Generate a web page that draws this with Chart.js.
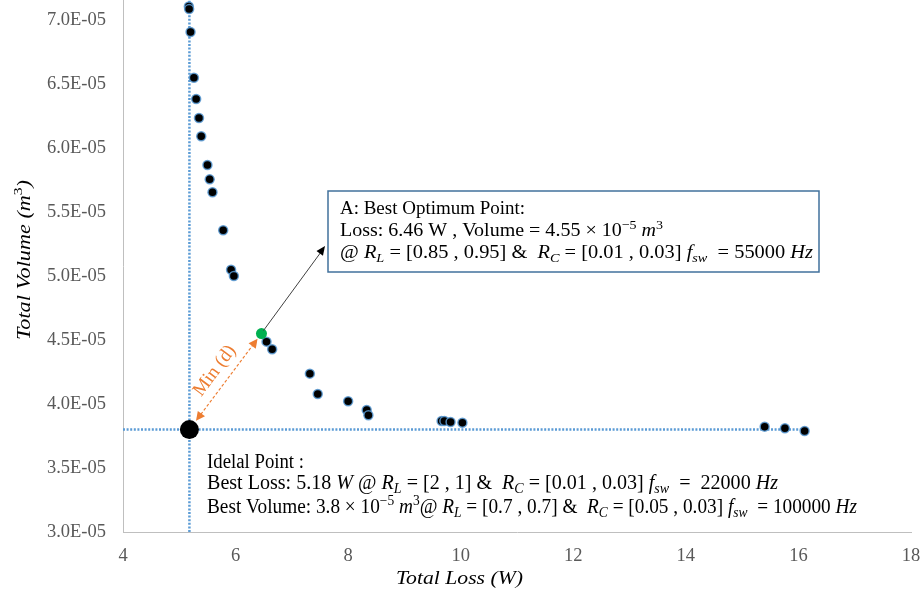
<!DOCTYPE html>
<html>
<head>
<meta charset="utf-8">
<script src="https://cdn.jsdelivr.net/npm/chart.js@4.4.0/dist/chart.umd.min.js"></script>
<style>
  html, body { margin: 0; padding: 0; background: #fff; }
  #wrap { width: 924px; height: 598px; }
</style>
</head>
<body>
<div id="wrap"><canvas id="paretoChart" width="924" height="598"></canvas></div>
<script>
// pareto front: total loss (W) against total volume (m^3)
const lossValues = [5.17, 5.175, 5.20, 5.26, 5.30, 5.35, 5.39, 5.50, 5.54, 5.59, 5.78, 5.92, 5.97,
  6.55, 6.65, 7.32, 7.46, 8.00, 8.33, 8.36, 9.66, 9.71, 9.82, 10.03, 15.40, 15.76, 16.11];
const volumeValues = [7.105e-5, 7.085e-5, 6.906e-5, 6.549e-5, 6.383e-5, 6.234e-5, 6.091e-5, 5.867e-5,
  5.755e-5, 5.654e-5, 5.357e-5, 5.049e-5, 5.000e-5, 4.487e-5, 4.427e-5, 4.237e-5, 4.078e-5,
  4.021e-5, 3.953e-5, 3.912e-5, 3.867e-5, 3.867e-5, 3.859e-5, 3.854e-5, 3.823e-5, 3.810e-5, 3.789e-5];

// best compromise and ideal point
const optimumLoss = 6.46;
const optimumVolume = 4.55e-5;
const idealLoss = 5.18;
const idealVolume = 3.8e-5;

const xMin = 4, xMax = 18;
const yMin = 3.0e-5, yMax = 7.156e-5;
const xTickValues = [4, 6, 8, 10, 12, 14, 16, 18];
const yTickValues = [3.0e-5, 3.5e-5, 4.0e-5, 4.5e-5, 5.0e-5, 5.5e-5, 6.0e-5, 6.5e-5, 7.0e-5];
const yTickLabels = ['3.0E-05', '3.5E-05', '4.0E-05', '4.5E-05', '5.0E-05', '5.5E-05', '6.0E-05', '6.5E-05', '7.0E-05'];

const SERIF = '"Liberation Serif", "Times New Roman", serif';

// runs: [text, flags]  i = italic, b = subscript, p = superscript
function runFont(flags, size) {
  const s = (flags.includes('b') || flags.includes('p')) ? size * 0.7 : size;
  return (flags.includes('i') ? 'italic ' : '') + s + 'px ' + SERIF;
}

function drawRich(ctx, runs, x, y, size, width) {
  ctx.save();
  let total = 0;
  runs.forEach(r => { ctx.font = runFont(r[1], size); total += ctx.measureText(r[0]).width; });
  ctx.translate(x, y);
  if (width) ctx.scale(width / total, 1);
  ctx.textBaseline = 'alphabetic';
  ctx.textAlign = 'left';
  let cx = 0;
  runs.forEach(r => {
    ctx.font = runFont(r[1], size);
    const dy = r[1].includes('b') ? size * 0.22 : r[1].includes('p') ? -size * 0.38 : 0;
    ctx.fillText(r[0], cx, dy);
    cx += ctx.measureText(r[0]).width;
  });
  ctx.restore();
}

function arrowHead(ctx, x1, y1, x2, y2, len, half, color) {
  const a = Math.atan2(y2 - y1, x2 - x1);
  ctx.save();
  ctx.translate(x2, y2);
  ctx.rotate(a);
  ctx.beginPath();
  ctx.moveTo(0, 0);
  ctx.lineTo(-len, -half);
  ctx.lineTo(-len, half);
  ctx.closePath();
  ctx.fillStyle = color;
  ctx.fill();
  ctx.restore();
}

const boxLines = [
  [['A: Best Optimum Point:', '']],
  [['Loss: ' + optimumLoss.toFixed(2) + ' W , Volume = ' + (optimumVolume * 1e5).toFixed(2) + ' \u00d7 10', ''],
   ['\u22125', 'p'], [' ', ''], ['m', 'i'], ['3', 'p']],
  [['@ ', ''], ['R', 'i'], ['L', 'ib'], [' = [0.85 , 0.95] &  ', ''], ['R', 'i'], ['C', 'ib'],
   [' = [0.01 , 0.03] ', ''], ['f', 'i'], ['sw', 'ib'], ['  = 55000 ', ''], ['Hz', 'i']]
];
const boxWidths = [185, 323, 473];

const idealLines = [
  [['Idelal Point :', '']],
  [['Best Loss: ' + idealLoss.toFixed(2) + ' ', ''], ['W', 'i'], [' @ ', ''], ['R', 'i'], ['L', 'ib'],
   [' = [2 , 1] &  ', ''], ['R', 'i'], ['C', 'ib'], [' = [0.01 , 0.03] ', ''], ['f', 'i'], ['sw', 'ib'],
   ['  =  22000 ', ''], ['Hz', 'i']],
  [['Best Volume: ' + (idealVolume * 1e5).toFixed(1) + ' \u00d7 10', ''], ['\u22125', 'p'], [' ', ''], ['m', 'i'], ['3', 'p'],
   ['@ ', ''], ['R', 'i'], ['L', 'ib'], [' = [0.7 , 0.7] &  ', ''], ['R', 'i'], ['C', 'ib'],
   [' = [0.05 , 0.03] ', ''], ['f', 'i'], ['sw', 'ib'], ['  = 100000 ', ''], ['Hz', 'i']]
];
const idealWidths = [97, 571, 650];

const notesPlugin = {
  id: 'notes',
  afterDraw(chart) {
    const ctx = chart.ctx;
    const xs = chart.scales.x, ys = chart.scales.y;
    const ox = xs.getPixelForValue(optimumLoss), oy = ys.getPixelForValue(optimumVolume);
    const ix = xs.getPixelForValue(idealLoss), iy = ys.getPixelForValue(idealVolume);

    // min distance arrow (orange, dashed, both ends)
    const dx = ox - ix, dy = oy - iy, len = Math.hypot(dx, dy);
    const ux = dx / len, uy = dy / len;
    const sx = ix + ux * 11, sy = iy + uy * 11;
    const ex = ox - ux * 6.5, ey = oy - uy * 6.5;
    ctx.save();
    ctx.strokeStyle = '#ED7D31';
    ctx.lineWidth = 1.2;
    ctx.setLineDash([3, 2]);
    ctx.beginPath();
    ctx.moveTo(sx + ux * 8, sy + uy * 8);
    ctx.lineTo(ex - ux * 8, ey - uy * 8);
    ctx.stroke();
    ctx.restore();
    arrowHead(ctx, ex, ey, sx, sy, 9, 4.5, '#ED7D31');
    arrowHead(ctx, sx, sy, ex, ey, 9, 4.5, '#ED7D31');

    ctx.save();
    const mx = (sx + ex) / 2, my = (sy + ey) / 2;
    ctx.translate(mx - 0.8 * 15, my - 0.6 * 15);
    ctx.rotate(Math.atan2(dy, dx));
    ctx.fillStyle = '#ED7D31';
    ctx.font = '19px ' + SERIF;
    ctx.textAlign = 'center';
    ctx.textBaseline = 'middle';
    ctx.fillText('Min (d)', 0, 0);
    ctx.restore();

    // callout box for the best optimum point
    const bx = 328, by = 191, bw = 491, bh = 81;
    const tx = bx - 3, ty = 246;
    ctx.save();
    ctx.strokeStyle = '#404040';
    ctx.lineWidth = 1;
    ctx.beginPath();
    ctx.moveTo(ox + 2, oy - 3);
    ctx.lineTo(tx - 4, ty + 6);
    ctx.stroke();
    ctx.restore();
    arrowHead(ctx, ox, oy, tx, ty, 9, 4, '#000');

    ctx.save();
    ctx.fillStyle = '#fff';
    ctx.fillRect(bx, by, bw, bh);
    ctx.strokeStyle = '#41719C';
    ctx.lineWidth = 1.5;
    ctx.strokeRect(bx, by, bw, bh);
    ctx.fillStyle = '#000';
    const boxBase = [214, 236, 258];
    boxLines.forEach((runs, i) => drawRich(ctx, runs, 340, boxBase[i], 19, boxWidths[i]));

    // ideal point description
    const idealBase = [468, 489, 512.5];
    idealLines.forEach((runs, i) => drawRich(ctx, runs, 207, idealBase[i], 20, idealWidths[i]));

    // axis titles
    drawRich(ctx, [['Total Loss (W)', 'i']], 396, 584, 19, 127);
    ctx.translate(29.5, 340);
    ctx.rotate(-Math.PI / 2);
    drawRich(ctx, [['Total Volume (', 'i'], ['m', 'i'], ['3', 'p'], [')', 'i']], 0, 0, 19, 160);
    ctx.restore();
  }
};

const tickFont = { family: 'Liberation Serif', size: 18.5 };

new Chart(document.getElementById('paretoChart'), {
  type: 'scatter',
  data: {
    datasets: [{
      data: lossValues.map((x, i) => ({ x: x, y: volumeValues[i] })),
      pointRadius: 4.5,
      pointBackgroundColor: '#000',
      pointBorderColor: 'rgba(91,155,213,0.85)',
      pointBorderWidth: 1.5,
      clip: false,
      order: 1
    }, {
      data: [{ x: optimumLoss, y: optimumVolume }],
      pointRadius: 5.5,
      pointBackgroundColor: '#00B050',
      pointBorderWidth: 0,
      clip: false,
      order: 0
    }, {
      data: [{ x: idealLoss, y: idealVolume }],
      pointRadius: 9.5,
      pointBackgroundColor: '#000',
      pointBorderWidth: 0,
      clip: false,
      order: 0
    }, {
      data: [{ x: idealLoss, y: yMin }, { x: idealLoss, y: yMax }],
      showLine: true,
      pointRadius: 0,
      borderColor: '#5B9BD5',
      borderWidth: 2.5,
      borderDash: [2, 1.6],
      order: 5
    }, {
      data: [{ x: xMin, y: idealVolume }, { x: Math.max(...lossValues), y: idealVolume }],
      showLine: true,
      pointRadius: 0,
      borderColor: '#5B9BD5',
      borderWidth: 2.5,
      borderDash: [2, 1.6],
      order: 5
    }]
  },
  options: {
    responsive: false,
    animation: false,
    layout: { autoPadding: false, padding: { left: 0, right: 13, top: 0, bottom: 0 } },
    plugins: { legend: { display: false }, tooltip: { enabled: false } },
    scales: {
      x: {
        type: 'linear',
        min: xMin,
        max: xMax,
        afterBuildTicks: s => { s.ticks = xTickValues.map(v => ({ value: v })); },
        afterFit: s => { s.height = 66; s.paddingLeft = 0; s.paddingRight = 0; },
        grid: { display: false, drawTicks: false },
        border: { display: true, color: '#BFBFBF', width: 1 },
        ticks: { padding: 13, color: '#595959', font: tickFont, maxRotation: 0, autoSkip: false }
      },
      y: {
        type: 'linear',
        min: yMin,
        max: yMax,
        afterBuildTicks: s => { s.ticks = yTickValues.map(v => ({ value: v })); },
        afterFit: s => { s.width = 123; s.paddingTop = 0; s.paddingBottom = 0; },
        grid: { display: false, drawTicks: false },
        border: { display: true, color: '#BFBFBF', width: 1 },
        ticks: {
          padding: 17, color: '#595959', font: tickFont, autoSkip: false,
          callback: (v, i) => yTickLabels[i]
        }
      }
    }
  },
  plugins: [notesPlugin]
});
</script>
</body>
</html>
